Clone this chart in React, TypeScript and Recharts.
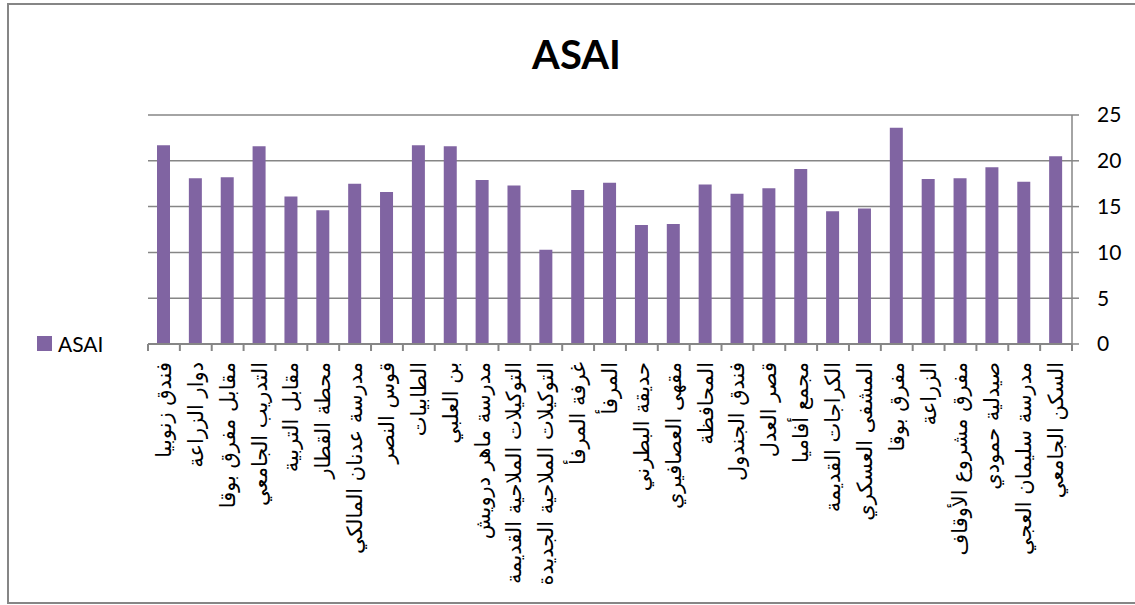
import { BarChart, Bar, XAxis, YAxis, CartesianGrid } from 'recharts';

// ASAI per location
const locations = [
  'فندق زنوبيا',
  'دوار الزراعة',
  'مقابل مفرق بوقا',
  'التدريب الجامعي',
  'مقابل التربية',
  'محطة القطار',
  'مدرسة عدنان المالكي',
  'قوس النصر',
  'الطابيات',
  'بن العلبي',
  'مدرسة ماهر درويش',
  'التوكيلات الملاحية القديمة',
  'التوكيلات الملاحية الجديدة',
  'غرفة المرفأ',
  'المرفأ',
  'حديقة البطرني',
  'مقهى العصافيري',
  'المحافظة',
  'فندق الجندول',
  'قصر العدل',
  'مجمع أفاميا',
  'الكراجات القديمة',
  'المشفى العسكري',
  'مفرق بوقا',
  'الزراعة',
  'مفرق مشروع الأوقاف',
  'صيدلية حمودي',
  'مدرسة سليمان العجي',
  'السكن الجامعي',
];

const asaiValues = [
  21.7, 18.1, 18.2, 21.6, 16.1, 14.6, 17.5, 16.6, 21.7, 21.6,
  17.9, 17.3, 10.3, 16.8, 17.6, 13.0, 13.1, 17.4, 16.4, 17.0,
  19.1, 14.5, 14.8, 23.6, 18.0, 18.1, 19.3, 17.7, 20.5,
];

const yTicks = [0, 5, 10, 15, 20, 25];

const W = 1135;
const H = 605;
const PLOT_LEFT = 148;
const PLOT_RIGHT = 1072;
const PLOT_TOP = 115;
const PLOT_BOTTOM = 344;
const Y_AXIS_W = 50;
const X_AXIS_H = 240;
const GRAY = '#868686';
const PURPLE = '#8064A2';

const band = (PLOT_RIGHT - PLOT_LEFT) / locations.length;

const rows = locations.map((name, i) => ({ name, ASAI: asaiValues[i] }));

// Excel-style category axis: tick marks sit between bars, labels run vertically
function CategoryTick(props: any) {
  const { x, y, payload, index } = props;
  const last = index === locations.length - 1;
  return (
    <g>
      <line x1={x - band / 2} x2={x - band / 2} y1={y} y2={y + 7} stroke={GRAY} strokeWidth={2} />
      {last && (
        <line x1={x + band / 2} x2={x + band / 2} y1={y} y2={y + 7} stroke={GRAY} strokeWidth={2} />
      )}
      <text
        transform={`translate(${x}, ${y + 18}) rotate(-90)`}
        textAnchor="end"
        dominantBaseline="central"
        fontFamily="'DejaVu Sans', sans-serif"
        fontSize={21}
        fill="#000"
      >
        {payload.value}
      </text>
    </g>
  );
}

export default function App() {
  return (
    <div style={{ position: 'absolute', left: 0, top: 0, width: W, height: H, overflow: 'hidden', background: '#fff' }}>
      <div
        style={{
          position: 'absolute',
          left: 7,
          top: 3,
          width: 1140,
          height: 601,
          border: `2px solid ${GRAY}`,
          boxSizing: 'border-box',
        }}
      />
      <div
        style={{
          position: 'absolute',
          left: 0,
          width: W,
          top: 30,
          textAlign: 'center',
          paddingLeft: 18,
          boxSizing: 'border-box',
          fontFamily: 'Lato, sans-serif',
          fontWeight: 'bold',
          fontSize: 40,
          lineHeight: '48px',
        }}
      >
        ASAI
      </div>
      <div
        style={{
          position: 'absolute',
          left: 37,
          top: 331,
          display: 'flex',
          alignItems: 'center',
          fontFamily: 'Lato, sans-serif',
          fontSize: 21,
        }}
      >
        <span style={{ width: 15, height: 15, background: PURPLE, display: 'inline-block', marginRight: 6 }} />
        <span>ASAI</span>
      </div>
      <BarChart
        width={W}
        height={H}
        data={rows}
        margin={{
          top: PLOT_TOP,
          left: PLOT_LEFT,
          right: W - PLOT_RIGHT - Y_AXIS_W,
          bottom: H - PLOT_BOTTOM - X_AXIS_H,
        }}
        barSize={13}
        style={{ position: 'absolute', left: 0, top: 0 }}
      >
        <CartesianGrid vertical={false} stroke={GRAY} strokeWidth={1.5} />
        <XAxis
          dataKey="name"
          interval={0}
          height={X_AXIS_H}
          tickSize={0}
          tickMargin={0}
          tickLine={false}
          axisLine={{ stroke: GRAY, strokeWidth: 2 }}
          tick={<CategoryTick />}
        />
        <YAxis
          orientation="right"
          width={Y_AXIS_W}
          domain={[0, 25]}
          ticks={yTicks}
          tickSize={7}
          tickMargin={18}
          axisLine={{ stroke: GRAY, strokeWidth: 1.5 }}
          tickLine={{ stroke: GRAY, strokeWidth: 1.5 }}
          tick={{ fill: '#000', fontSize: 21, fontFamily: 'Lato, sans-serif', textAnchor: 'start' }}
        />
        <Bar dataKey="ASAI" fill={PURPLE} isAnimationActive={false} />
      </BarChart>
    </div>
  );
}
